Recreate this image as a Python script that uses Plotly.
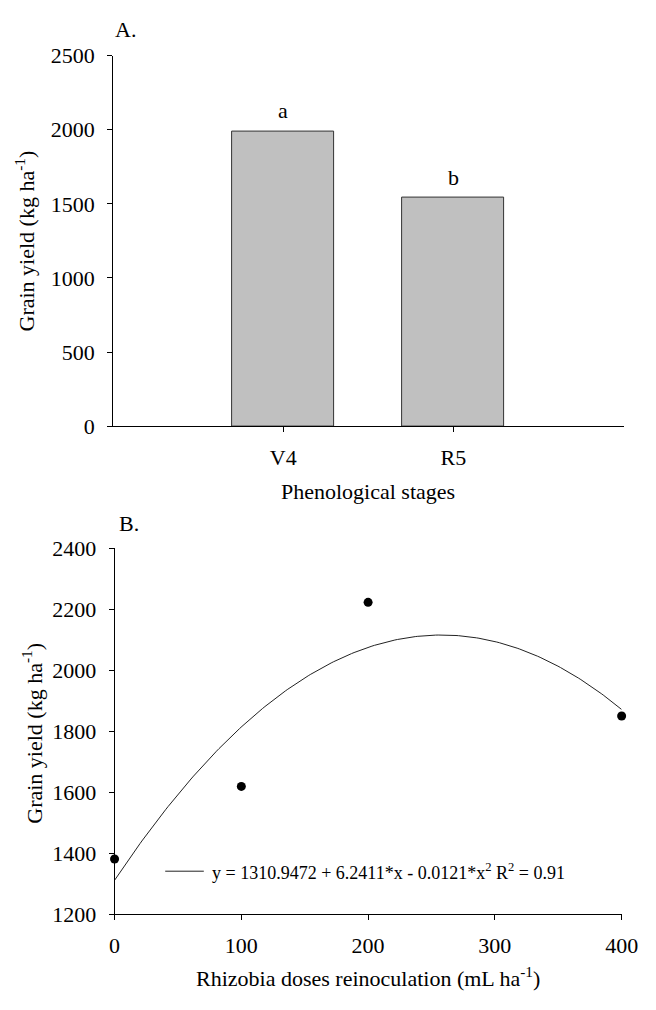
import numpy as np
import plotly.graph_objects as go

# ---- Data ----
stages = ["V4", "R5"]
stage_pos = [1, 2]
stage_yield = [1990, 1540]
stage_letters = ["a", "b"]

doses = [0, 100, 200, 400]
dose_yield = [1381, 1619, 2223, 1850]
fit_coef = [1310.9472, 6.2411, -0.0121]  # y = c0 + c1*x + c2*x^2 (as printed on chart)
fit_label = "y = 1310.9472 + 6.2411*x - 0.0121*x<sup>2</sup> R<sup>2</sup> = 0.91"

W, H = 656, 1010
FONT = "Liberation Serif, Times New Roman, serif"
TICK = 22
TITLE = 22

def px_x(v):
    return v / W

def px_y(v):
    return 1 - v / H

fig = go.Figure()

fig.add_trace(go.Bar(
    x=stage_pos, y=stage_yield, width=0.6,
    marker=dict(color="#c0c0c0", line=dict(color="#333333", width=1)),
    xaxis="x", yaxis="y", showlegend=False,
))

fit_x = np.linspace(min(doses), max(doses), 200)
fit_y = fit_coef[0] + fit_coef[1] * fit_x + fit_coef[2] * fit_x ** 2
fig.add_trace(go.Scatter(
    x=fit_x, y=fit_y, mode="lines", line=dict(color="#222222", width=1),
    name=fit_label, xaxis="x2", yaxis="y2", showlegend=False,
))
fig.add_trace(go.Scatter(
    x=doses, y=dose_yield, mode="markers",
    marker=dict(color="black", size=9), cliponaxis=False,
    xaxis="x2", yaxis="y2", showlegend=False,
))

axis_common = dict(
    showline=True, linecolor="black", linewidth=1, ticks="outside",
    ticklen=5, tickcolor="black", showgrid=False, zeroline=False,
    tickfont=dict(family=FONT, size=TICK, color="black"),
)

fig.update_layout(
    width=W, height=H,
    margin=dict(l=0, r=0, t=0, b=0),
    paper_bgcolor="white", plot_bgcolor="white",
    font=dict(family=FONT, color="black"),
    xaxis=dict(domain=[px_x(111), px_x(640)], range=[0, 3],
               tickvals=stage_pos, ticktext=stages, anchor="y",
               ticklabelstandoff=6, **axis_common),
    yaxis=dict(domain=[px_y(424.7), px_y(44.7)], range=[0, 2500],
               tickvals=[0, 500, 1000, 1500, 2000, 2500], anchor="x",
               ticklabelstandoff=8, **axis_common),
    xaxis2=dict(domain=[px_x(112.5), px_x(638)], range=[0, 400],
                tickvals=[0, 100, 200, 300, 400], anchor="y2",
                ticklabelstandoff=6, **axis_common),
    yaxis2=dict(domain=[px_y(925), px_y(550)], range=[1200, 2400],
                tickvals=[1200, 1400, 1600, 1800, 2000, 2200, 2400], anchor="x2",
                ticklabelstandoff=8, **axis_common),
    showlegend=False,
    bargap=0,
)

annotations = []
for p, v, t in zip(stage_pos, stage_yield, stage_letters):
    annotations.append(dict(x=p, y=v, xref="x", yref="y", text=t, showarrow=False,
                            yanchor="bottom", yshift=6,
                            font=dict(family=FONT, size=TICK, color="black")))

def label(x, y, text, size=TITLE, angle=0, xanchor="center"):
    annotations.append(dict(x=px_x(x), y=px_y(y), xref="paper", yref="paper", text=text,
                            showarrow=False, textangle=angle, xanchor=xanchor, yanchor="middle",
                            font=dict(family=FONT, size=size, color="black")))

label(111, 18, "A.", xanchor="left")
label(115, 524, "B.", xanchor="left")
label(20, 235, "Grain yield (kg ha<sup>-1</sup>)", angle=-90)
label(27, 740, "Grain yield (kg ha<sup>-1</sup>)", angle=-90)
label(375, 492, "Phenological stages")
label(375, 990, "Rhizobia doses reinoculation (mL ha<sup>-1</sup>)")
# regression legend: sample line + equation text
label(211, 881, fit_label, size=18, xanchor="left")
fig.update_layout(annotations=annotations)

fig.add_shape(type="line", xref="paper", yref="paper",
              x0=px_x(165), x1=px_x(205), y0=px_y(881), y1=px_y(881),
              line=dict(color="#222222", width=1))

fig.write_html("out.html", config={"displayModeBar": False},
               post_script="document.body.style.margin='0px';")
